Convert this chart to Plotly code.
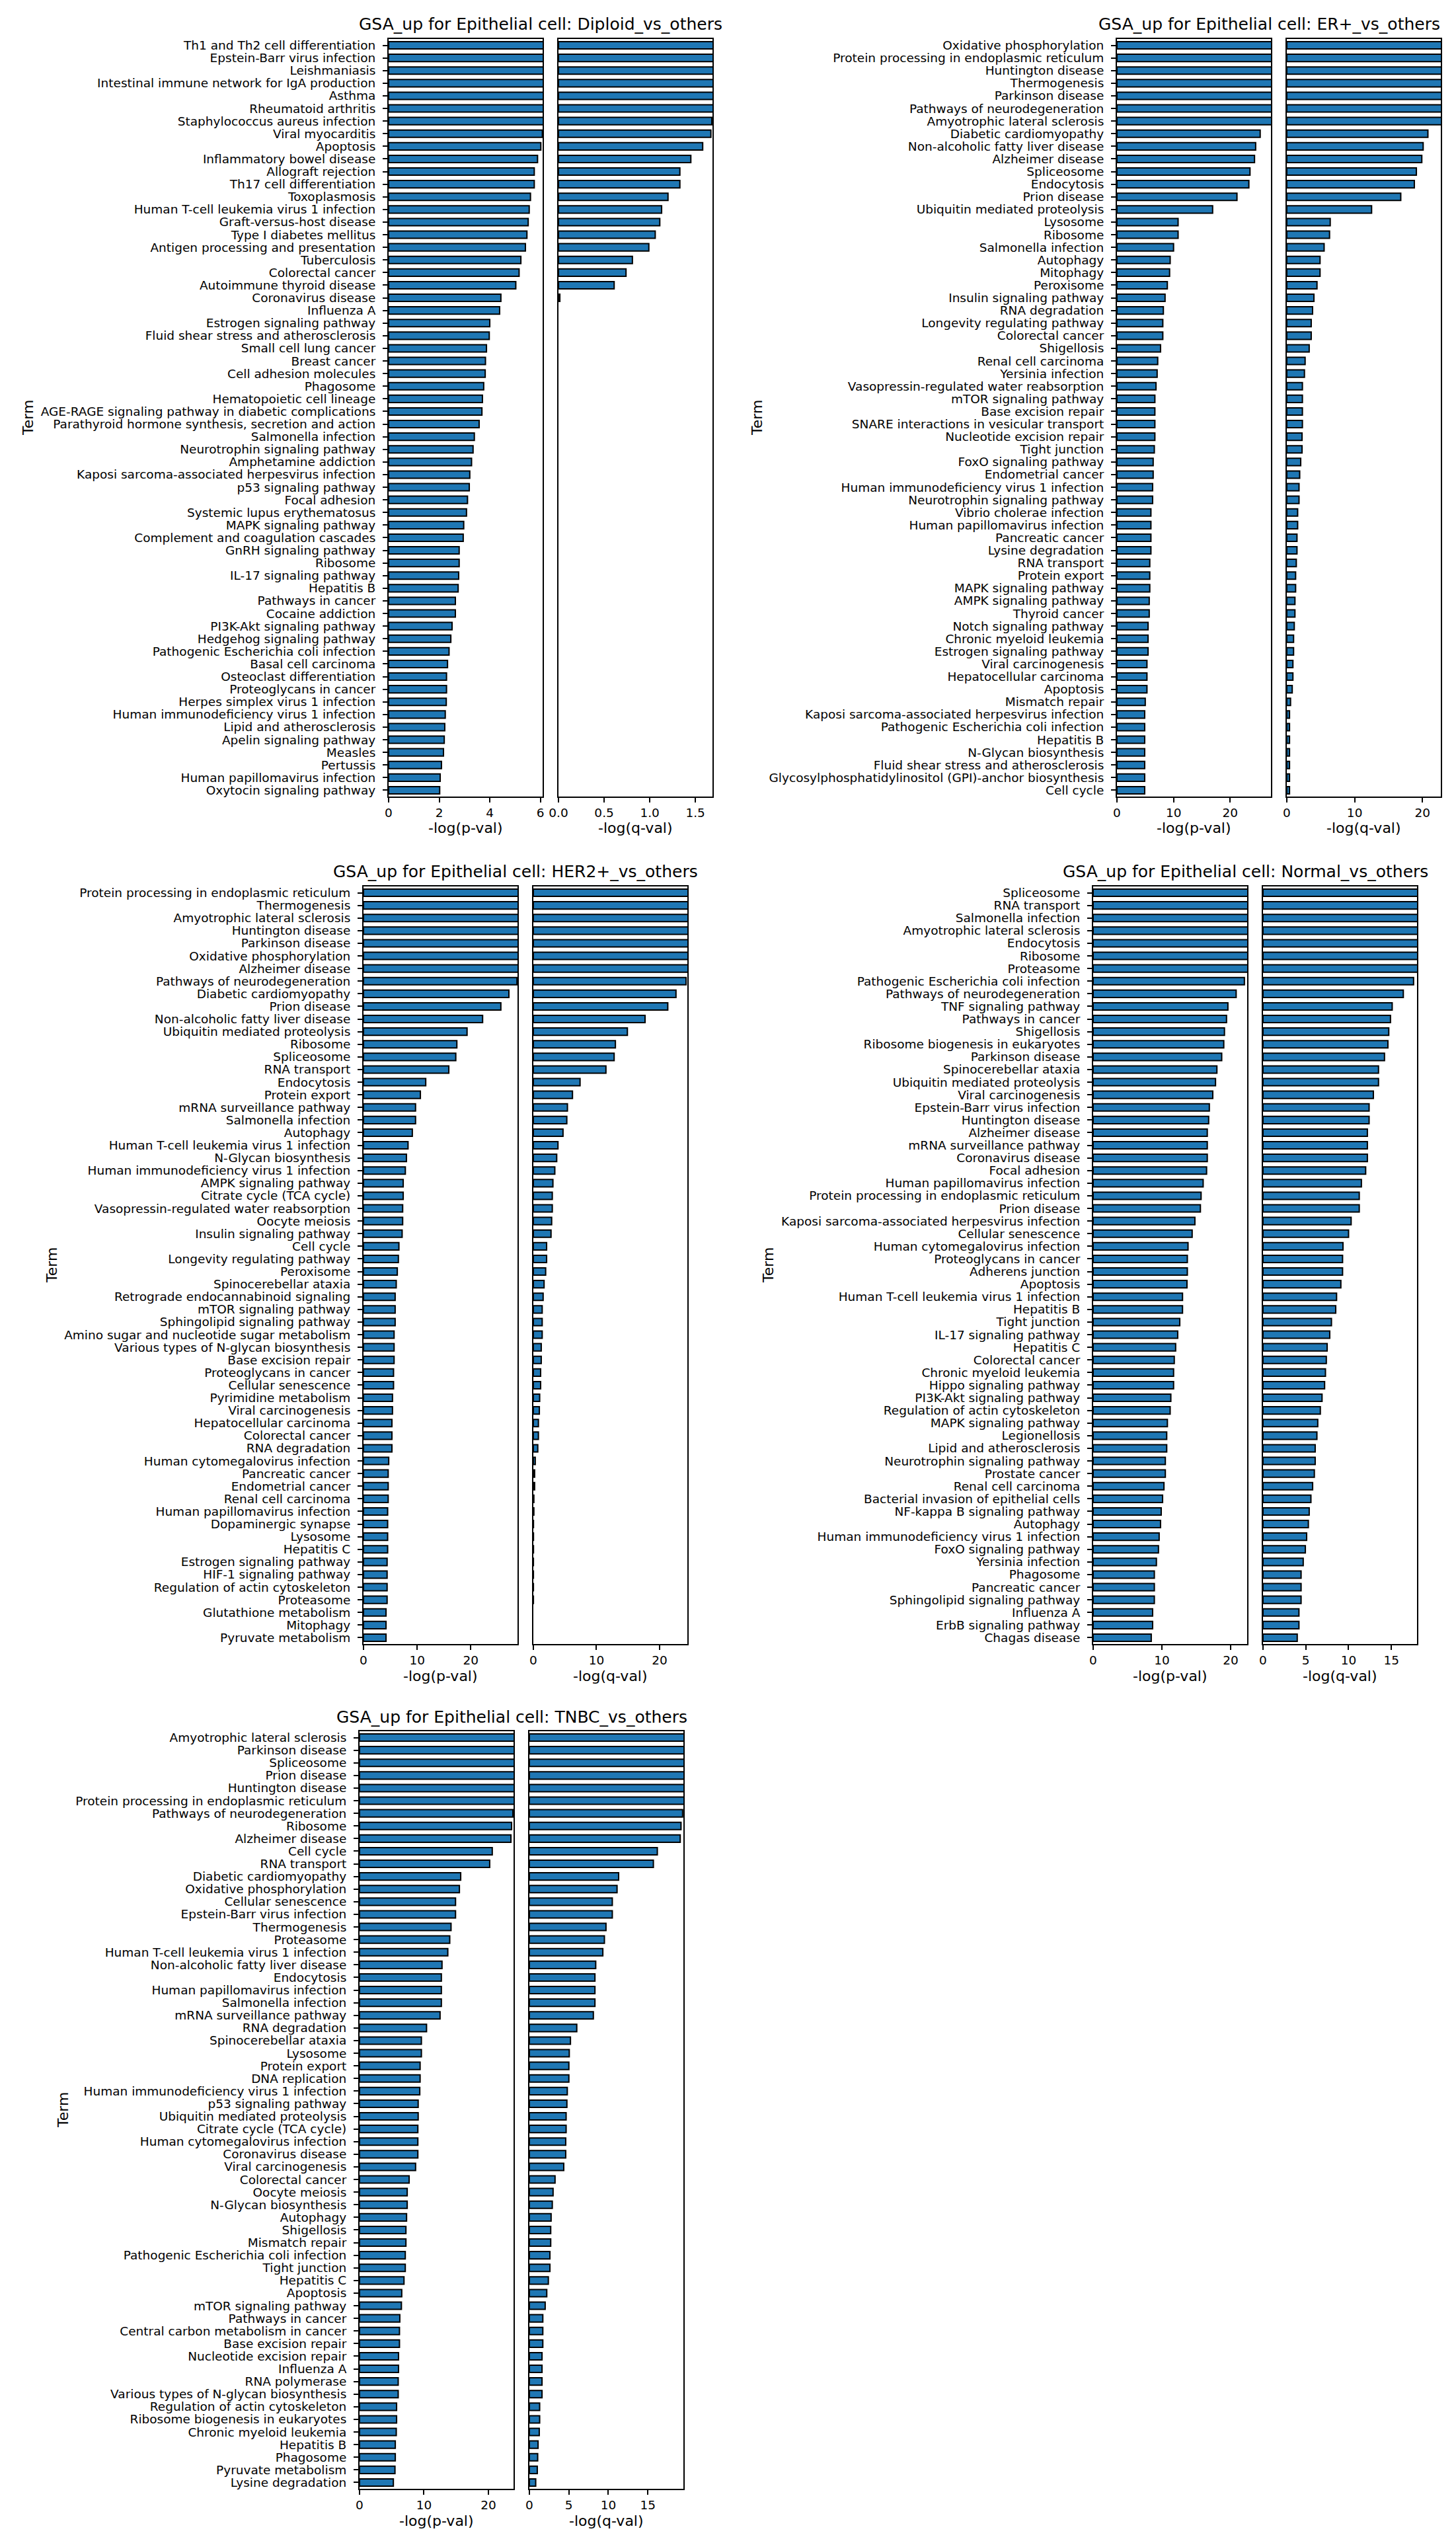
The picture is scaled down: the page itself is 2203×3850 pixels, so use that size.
import plotly.graph_objects as go

# ---------------- data ----------------
diploid_terms = ["Th1 and Th2 cell differentiation", "Epstein-Barr virus infection", "Leishmaniasis",
    "Intestinal immune network for IgA production", "Asthma", "Rheumatoid arthritis",
    "Staphylococcus aureus infection", "Viral myocarditis", "Apoptosis", "Inflammatory bowel disease",
    "Allograft rejection", "Th17 cell differentiation", "Toxoplasmosis", "Human T-cell leukemia virus 1 infection",
    "Graft-versus-host disease", "Type I diabetes mellitus", "Antigen processing and presentation", "Tuberculosis",
    "Colorectal cancer", "Autoimmune thyroid disease", "Coronavirus disease", "Influenza A",
    "Estrogen signaling pathway", "Fluid shear stress and atherosclerosis", "Small cell lung cancer",
    "Breast cancer", "Cell adhesion molecules", "Phagosome", "Hematopoietic cell lineage",
    "AGE-RAGE signaling pathway in diabetic complications", "Parathyroid hormone synthesis, secretion and action",
    "Salmonella infection", "Neurotrophin signaling pathway", "Amphetamine addiction",
    "Kaposi sarcoma-associated herpesvirus infection", "p53 signaling pathway", "Focal adhesion",
    "Systemic lupus erythematosus", "MAPK signaling pathway", "Complement and coagulation cascades",
    "GnRH signaling pathway", "Ribosome", "IL-17 signaling pathway", "Hepatitis B", "Pathways in cancer",
    "Cocaine addiction", "PI3K-Akt signaling pathway", "Hedgehog signaling pathway",
    "Pathogenic Escherichia coli infection", "Basal cell carcinoma", "Osteoclast differentiation",
    "Proteoglycans in cancer", "Herpes simplex virus 1 infection", "Human immunodeficiency virus 1 infection",
    "Lipid and atherosclerosis", "Apelin signaling pathway", "Measles", "Pertussis",
    "Human papillomavirus infection", "Oxytocin signaling pathway"]
diploid_p = [6.9, 6.8, 6.7, 6.6, 6.5, 6.4, 6.3, 6.08, 6.02, 5.89, 5.76, 5.76, 5.61, 5.56, 5.52, 5.47, 5.41,
    5.23, 5.16, 5.03, 4.44, 4.39, 4.00, 3.98, 3.87, 3.83, 3.82, 3.76, 3.71, 3.69, 3.58, 3.39, 3.34, 3.28,
    3.21, 3.19, 3.12, 3.08, 2.97, 2.95, 2.79, 2.79, 2.77, 2.75, 2.64, 2.64, 2.51, 2.46, 2.39, 2.33, 2.29,
    2.29, 2.28, 2.24, 2.22, 2.20, 2.17, 2.09, 2.04, 2.02]
diploid_q = [1.95, 1.93, 1.91, 1.89, 1.87, 1.85, 1.68, 1.67, 1.58, 1.45, 1.33, 1.33, 1.20, 1.13, 1.11, 1.06,
    0.99, 0.81, 0.74, 0.61, 0.015] + [0.0] * 39

er_terms = ["Oxidative phosphorylation", "Protein processing in endoplasmic reticulum", "Huntington disease",
    "Thermogenesis", "Parkinson disease", "Pathways of neurodegeneration", "Amyotrophic lateral sclerosis",
    "Diabetic cardiomyopathy", "Non-alcoholic fatty liver disease", "Alzheimer disease", "Spliceosome",
    "Endocytosis", "Prion disease", "Ubiquitin mediated proteolysis", "Lysosome", "Ribosome",
    "Salmonella infection", "Autophagy", "Mitophagy", "Peroxisome", "Insulin signaling pathway",
    "RNA degradation", "Longevity regulating pathway", "Colorectal cancer", "Shigellosis",
    "Renal cell carcinoma", "Yersinia infection", "Vasopressin-regulated water reabsorption",
    "mTOR signaling pathway", "Base excision repair", "SNARE interactions in vesicular transport",
    "Nucleotide excision repair", "Tight junction", "FoxO signaling pathway", "Endometrial cancer",
    "Human immunodeficiency virus 1 infection", "Neurotrophin signaling pathway", "Vibrio cholerae infection",
    "Human papillomavirus infection", "Pancreatic cancer", "Lysine degradation", "RNA transport",
    "Protein export", "MAPK signaling pathway", "AMPK signaling pathway", "Thyroid cancer",
    "Notch signaling pathway", "Chronic myeloid leukemia", "Estrogen signaling pathway",
    "Viral carcinogenesis", "Hepatocellular carcinoma", "Apoptosis", "Mismatch repair",
    "Kaposi sarcoma-associated herpesvirus infection", "Pathogenic Escherichia coli infection", "Hepatitis B",
    "N-Glycan biosynthesis", "Fluid shear stress and atherosclerosis",
    "Glycosylphosphatidylinositol (GPI)-anchor biosynthesis", "Cell cycle"]
er_p = [31, 30.5, 30, 29.5, 29, 28.5, 28, 25.3, 24.5, 24.3, 23.5, 23.3, 21.2, 16.9, 10.8, 10.8, 10.0, 9.4,
    9.3, 8.9, 8.5, 8.2, 8.1, 8.1, 7.7, 7.2, 7.1, 6.9, 6.7, 6.7, 6.7, 6.7, 6.6, 6.4, 6.4, 6.3, 6.3, 6.0, 6.0,
    6.0, 6.0, 5.8, 5.8, 5.8, 5.7, 5.7, 5.5, 5.5, 5.5, 5.3, 5.3, 5.3, 5.0, 4.9, 4.9, 4.9, 4.9, 4.9, 4.9, 4.9]
er_q = [26, 25.5, 25, 24.5, 24, 23.5, 23, 20.8, 20.1, 19.9, 19.1, 18.8, 16.8, 12.5, 6.4, 6.3, 5.5, 4.9, 4.9,
    4.45, 4.0, 3.8, 3.6, 3.6, 3.3, 2.7, 2.6, 2.3, 2.3, 2.3, 2.3, 2.25, 2.25, 2.05, 1.9, 1.8, 1.8, 1.6, 1.6,
    1.5, 1.5, 1.4, 1.3, 1.3, 1.2, 1.2, 1.1, 1.0, 1.0, 0.9, 0.9, 0.8, 0.55, 0.4, 0.4, 0.4, 0.4, 0.4, 0.4, 0.4]

her2_terms = ["Protein processing in endoplasmic reticulum", "Thermogenesis", "Amyotrophic lateral sclerosis",
    "Huntington disease", "Parkinson disease", "Oxidative phosphorylation", "Alzheimer disease",
    "Pathways of neurodegeneration", "Diabetic cardiomyopathy", "Prion disease",
    "Non-alcoholic fatty liver disease", "Ubiquitin mediated proteolysis", "Ribosome", "Spliceosome",
    "RNA transport", "Endocytosis", "Protein export", "mRNA surveillance pathway", "Salmonella infection",
    "Autophagy", "Human T-cell leukemia virus 1 infection", "N-Glycan biosynthesis",
    "Human immunodeficiency virus 1 infection", "AMPK signaling pathway", "Citrate cycle (TCA cycle)",
    "Vasopressin-regulated water reabsorption", "Oocyte meiosis", "Insulin signaling pathway", "Cell cycle",
    "Longevity regulating pathway", "Peroxisome", "Spinocerebellar ataxia",
    "Retrograde endocannabinoid signaling", "mTOR signaling pathway", "Sphingolipid signaling pathway",
    "Amino sugar and nucleotide sugar metabolism", "Various types of N-glycan biosynthesis",
    "Base excision repair", "Proteoglycans in cancer", "Cellular senescence", "Pyrimidine metabolism",
    "Viral carcinogenesis", "Hepatocellular carcinoma", "Colorectal cancer", "RNA degradation",
    "Human cytomegalovirus infection", "Pancreatic cancer", "Endometrial cancer", "Renal cell carcinoma",
    "Human papillomavirus infection", "Dopaminergic synapse", "Lysosome", "Hepatitis C",
    "Estrogen signaling pathway", "HIF-1 signaling pathway", "Regulation of actin cytoskeleton",
    "Proteasome", "Glutathione metabolism", "Mitophagy", "Pyruvate metabolism"]
her2_p = [34, 33.5, 33, 32.5, 32, 31.5, 31, 28.6, 27.1, 25.6, 22.2, 19.3, 17.4, 17.2, 15.9, 11.6, 10.6, 9.7,
    9.7, 9.1, 8.3, 8.0, 7.8, 7.4, 7.4, 7.3, 7.3, 7.2, 6.6, 6.5, 6.3, 6.1, 5.9, 5.9, 5.9, 5.7, 5.7, 5.7, 5.6,
    5.6, 5.4, 5.4, 5.3, 5.3, 5.3, 4.7, 4.6, 4.6, 4.6, 4.5, 4.5, 4.5, 4.5, 4.4, 4.4, 4.4, 4.4, 4.2, 4.2, 4.2]
her2_q = [29, 28.5, 28, 27.5, 27, 26.5, 26, 24.2, 22.6, 21.3, 17.7, 14.9, 13.0, 12.8, 11.5, 7.4, 6.2, 5.4,
    5.3, 4.7, 3.9, 3.7, 3.4, 3.1, 3.0, 3.0, 2.9, 2.8, 2.1, 2.1, 1.95, 1.7, 1.55, 1.4, 1.4, 1.4, 1.25, 1.25,
    1.15, 1.15, 1.0, 0.95, 0.8, 0.8, 0.7, 0.3, 0.2, 0.2, 0.08, 0.08, 0.02, 0.02, 0.02, 0.01, 0.01, 0.01,
    0.01, 0.0, 0.0, 0.0]

normal_terms = ["Spliceosome", "RNA transport", "Salmonella infection", "Amyotrophic lateral sclerosis",
    "Endocytosis", "Ribosome", "Proteasome", "Pathogenic Escherichia coli infection",
    "Pathways of neurodegeneration", "TNF signaling pathway", "Pathways in cancer", "Shigellosis",
    "Ribosome biogenesis in eukaryotes", "Parkinson disease", "Spinocerebellar ataxia",
    "Ubiquitin mediated proteolysis", "Viral carcinogenesis", "Epstein-Barr virus infection",
    "Huntington disease", "Alzheimer disease", "mRNA surveillance pathway", "Coronavirus disease",
    "Focal adhesion", "Human papillomavirus infection", "Protein processing in endoplasmic reticulum",
    "Prion disease", "Kaposi sarcoma-associated herpesvirus infection", "Cellular senescence",
    "Human cytomegalovirus infection", "Proteoglycans in cancer", "Adherens junction", "Apoptosis",
    "Human T-cell leukemia virus 1 infection", "Hepatitis B", "Tight junction", "IL-17 signaling pathway",
    "Hepatitis C", "Colorectal cancer", "Chronic myeloid leukemia", "Hippo signaling pathway",
    "PI3K-Akt signaling pathway", "Regulation of actin cytoskeleton", "MAPK signaling pathway",
    "Legionellosis", "Lipid and atherosclerosis", "Neurotrophin signaling pathway", "Prostate cancer",
    "Renal cell carcinoma", "Bacterial invasion of epithelial cells", "NF-kappa B signaling pathway",
    "Autophagy", "Human immunodeficiency virus 1 infection", "FoxO signaling pathway", "Yersinia infection",
    "Phagosome", "Pancreatic cancer", "Sphingolipid signaling pathway", "Influenza A",
    "ErbB signaling pathway", "Chagas disease"]
normal_p = [26, 25.6, 25.2, 24.8, 24.4, 24, 23.6, 22.0, 20.8, 19.6, 19.4, 19.1, 19.0, 18.7, 18.0, 17.8, 17.4,
    16.9, 16.8, 16.6, 16.6, 16.6, 16.5, 16.0, 15.7, 15.6, 14.8, 14.4, 13.8, 13.7, 13.7, 13.65, 13.0, 13.0,
    12.6, 12.3, 12.0, 11.8, 11.7, 11.7, 11.3, 11.2, 10.8, 10.7, 10.7, 10.5, 10.5, 10.3, 10.1, 9.9, 9.8, 9.6,
    9.5, 9.2, 8.9, 8.9, 8.9, 8.65, 8.65, 8.45]
normal_q = [21, 20.7, 20.4, 20.1, 19.8, 19.5, 19.2, 17.6, 16.4, 15.1, 14.9, 14.7, 14.6, 14.2, 13.5, 13.5, 12.9,
    12.4, 12.4, 12.2, 12.2, 12.2, 12.0, 11.5, 11.25, 11.25, 10.3, 10.0, 9.35, 9.3, 9.3, 9.1, 8.6, 8.5, 8.0,
    7.8, 7.5, 7.4, 7.3, 7.2, 6.9, 6.7, 6.4, 6.3, 6.1, 6.1, 6.0, 5.8, 5.6, 5.4, 5.3, 5.1, 4.95, 4.7, 4.45,
    4.45, 4.45, 4.2, 4.2, 4.0]

tnbc_terms = ["Amyotrophic lateral sclerosis", "Parkinson disease", "Spliceosome", "Prion disease",
    "Huntington disease", "Protein processing in endoplasmic reticulum", "Pathways of neurodegeneration",
    "Ribosome", "Alzheimer disease", "Cell cycle", "RNA transport", "Diabetic cardiomyopathy",
    "Oxidative phosphorylation", "Cellular senescence", "Epstein-Barr virus infection", "Thermogenesis",
    "Proteasome", "Human T-cell leukemia virus 1 infection", "Non-alcoholic fatty liver disease",
    "Endocytosis", "Human papillomavirus infection", "Salmonella infection", "mRNA surveillance pathway",
    "RNA degradation", "Spinocerebellar ataxia", "Lysosome", "Protein export", "DNA replication",
    "Human immunodeficiency virus 1 infection", "p53 signaling pathway", "Ubiquitin mediated proteolysis",
    "Citrate cycle (TCA cycle)", "Human cytomegalovirus infection", "Coronavirus disease",
    "Viral carcinogenesis", "Colorectal cancer", "Oocyte meiosis", "N-Glycan biosynthesis", "Autophagy",
    "Shigellosis", "Mismatch repair", "Pathogenic Escherichia coli infection", "Tight junction",
    "Hepatitis C", "Apoptosis", "mTOR signaling pathway", "Pathways in cancer",
    "Central carbon metabolism in cancer", "Base excision repair", "Nucleotide excision repair",
    "Influenza A", "RNA polymerase", "Various types of N-glycan biosynthesis",
    "Regulation of actin cytoskeleton", "Ribosome biogenesis in eukaryotes", "Chronic myeloid leukemia",
    "Hepatitis B", "Phagosome", "Pyruvate metabolism", "Lysine degradation"]
tnbc_p = [28, 27.6, 27.2, 26.8, 26.4, 26, 23.8, 23.6, 23.5, 20.6, 20.2, 15.7, 15.5, 14.9, 14.9, 14.2, 14.0,
    13.7, 12.8, 12.7, 12.7, 12.7, 12.5, 10.4, 9.6, 9.6, 9.4, 9.4, 9.35, 9.1, 9.1, 9.05, 9.05, 9.05, 8.7, 7.7,
    7.4, 7.4, 7.3, 7.2, 7.2, 7.1, 7.1, 6.9, 6.55, 6.5, 6.25, 6.2, 6.2, 6.05, 6.05, 6.0, 6.0, 5.75, 5.75, 5.7,
    5.55, 5.55, 5.5, 5.25]
tnbc_q = [23, 22.6, 22.2, 21.8, 21.4, 21, 19.4, 19.2, 19.1, 16.2, 15.7, 11.3, 11.1, 10.5, 10.5, 9.7, 9.5, 9.3,
    8.4, 8.3, 8.3, 8.3, 8.1, 6.0, 5.2, 5.05, 5.0, 5.0, 4.8, 4.75, 4.65, 4.65, 4.6, 4.6, 4.35, 3.25, 3.0, 2.9,
    2.75, 2.7, 2.7, 2.6, 2.6, 2.4, 2.2, 2.0, 1.7, 1.7, 1.7, 1.6, 1.6, 1.6, 1.6, 1.3, 1.3, 1.25, 1.1, 1.05,
    1.0, 0.8]

panel_titles = ["GSA_up for Epithelial cell: Diploid_vs_others", "GSA_up for Epithelial cell: ER+_vs_others",
                "GSA_up for Epithelial cell: HER2+_vs_others", "GSA_up for Epithelial cell: Normal_vs_others",
                "GSA_up for Epithelial cell: TNBC_vs_others"]
x_labels = ["-log(p-val)", "-log(q-val)"]
y_label = "Term"

# ---------------- layout settings ----------------
W, H = 2203, 3850
FONT = "DejaVu Sans"
AX_W, GAP, AX_H = 233, 24, 1146
BAR_BLUE = "#1f77b4"

panels = [
    dict(terms=diploid_terms, p=diploid_p, q=diploid_q, prange=6.09, qrange=1.687, pdt=2, qdt=0.5, qfmt=".1f",
         left=580, top=51, termx=35),
    dict(terms=er_terms, p=er_p, q=er_q, prange=27.2, qrange=22.7, pdt=10, qdt=10, qfmt="d",
         left=1682, top=51, termx=1138),
    dict(terms=her2_terms, p=her2_p, q=her2_q, prange=28.7, qrange=24.4, pdt=10, qdt=10, qfmt="d",
         left=542, top=1333, termx=71),
    dict(terms=normal_terms, p=normal_p, q=normal_q, prange=22.4, qrange=18.0, pdt=10, qdt=5, qfmt="d",
         left=1646, top=1333, termx=1155),
    dict(terms=tnbc_terms, p=tnbc_p, q=tnbc_q, prange=23.9, qrange=19.5, pdt=10, qdt=5, qfmt="d",
         left=536, top=2611, termx=87),
]

fig = go.Figure()
layout = dict(width=W, height=H, margin=dict(l=0, r=0, t=0, b=0), template="none",
              paper_bgcolor="white", plot_bgcolor="white", showlegend=False, bargap=0.42,
              font=dict(family=FONT, color="black"))
annotations = []
tickfont = dict(family=FONT, size=18.5, color="black")

for i, pn in enumerate(panels):
    n = len(pn["terms"])
    ydom = [1 - (pn["top"] + AX_H) / H, 1 - pn["top"] / H]
    for j, (vals, rng, dt, fmt) in enumerate([(pn["p"], pn["prange"], pn["pdt"], "d"),
                                             (pn["q"], pn["qrange"], pn["qdt"], pn["qfmt"])]):
        k = 2 * i + j + 1
        xs = "x" if k == 1 else f"x{k}"
        ys = "y" if k == 1 else f"y{k}"
        x0 = pn["left"] + j * (AX_W + GAP)
        edge_w = [2 if v > 0 else 0 for v in vals]
        fig.add_trace(go.Bar(y=pn["terms"], x=vals, orientation="h", xaxis=xs, yaxis=ys,
                             marker=dict(color=BAR_BLUE, line=dict(color="black", width=edge_w)),
                             showlegend=False))
        layout["xaxis" if k == 1 else f"xaxis{k}"] = dict(
            domain=[x0 / W, (x0 + AX_W) / W], anchor=ys, range=[0, rng], tickmode="linear", tick0=0,
            dtick=dt, tickformat=fmt, ticks="outside", ticklen=7, tickwidth=1.6,
            tickcolor="black", showline=True, linecolor="black", linewidth=2, mirror=True,
            showgrid=False, zeroline=False, tickfont=tickfont, automargin=False, ticklabelstandoff=0)
        layout["yaxis" if k == 1 else f"yaxis{k}"] = dict(
            domain=ydom, anchor=xs, type="category", categoryorder="array", categoryarray=pn["terms"],
            tickmode="array", tickvals=pn["terms"], ticktext=pn["terms"],
            range=[n - 0.5, -0.5], showline=True, linecolor="black", linewidth=2, mirror=True,
            showgrid=False, zeroline=False, ticks="outside" if j == 0 else "", ticklen=7, tickwidth=1.6,
            tickcolor="black", showticklabels=(j == 0), tickfont=tickfont, automargin=False,
            ticklabelstandoff=7)
        annotations.append(dict(text=x_labels[j], xref="paper", yref="paper", x=(x0 + AX_W / 2) / W,
                                y=1 - (pn["top"] + AX_H + 48) / H, xanchor="center", yanchor="middle",
                                showarrow=False, font=dict(family=FONT, size=22, color="black")))
    cx = pn["left"] + (2 * AX_W + GAP) / 2 - 15
    annotations.append(dict(text=panel_titles[i], xref="paper", yref="paper", x=cx / W,
                            y=1 - (pn["top"] - 22) / H, xanchor="center", yanchor="middle",
                            showarrow=False, font=dict(family=FONT, size=25, color="black")))
    annotations.append(dict(text=y_label, xref="paper", yref="paper", x=pn["termx"] / W,
                            y=1 - (pn["top"] + AX_H / 2) / H, xanchor="center", yanchor="middle",
                            textangle=-90, showarrow=False, font=dict(family=FONT, size=22, color="black")))

layout["annotations"] = annotations
fig.update_layout(**layout)
fig.write_html("out.html")
